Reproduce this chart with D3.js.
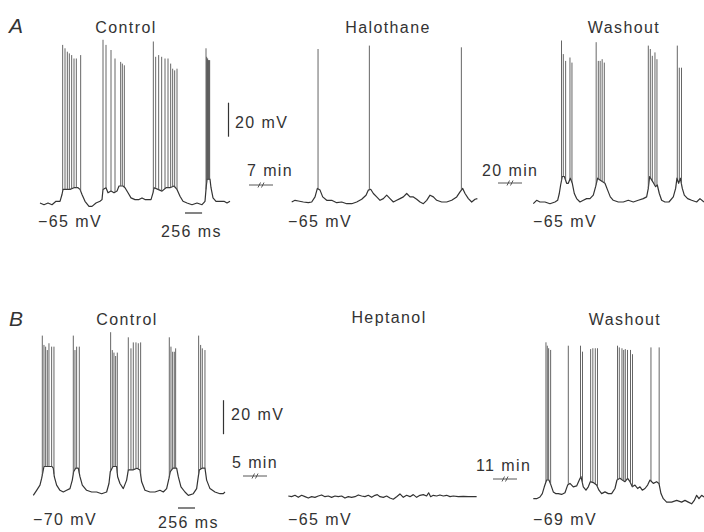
<!DOCTYPE html>
<html><head><meta charset="utf-8">
<script src="https://cdn.jsdelivr.net/npm/d3@7"></script>
<style>
html,body{margin:0;padding:0;background:#fff;}
svg text{font-family:"Liberation Sans",Arial,Helvetica,sans-serif;fill:#333;}
</style></head><body>
<svg id="c" width="704" height="532"></svg>
<script>
// ---------- DATA (time in ms, membrane potential in mV) ----------
const panelLetters = ["A", "B"];
const conditionsA = ["Control", "Halothane", "Washout"];
const conditionsB = ["Control", "Heptanol", "Washout"];
const restLabelsA = ["−65 mV", "−65 mV", "−65 mV"];
const restLabelsB = ["−70 mV", "−65 mV", "−69 mV"];
const restA = [-65, -65, -65];
const restB = [-70, -65, -69];
const gapLabelsA = ["7 min", "20 min"];
const gapLabelsB = ["5 min", "11 min"];
const voltBarLabel = "20 mV";
const voltBarMV = 20;
const timeBarLabel = "256 ms";
const timeBarMS = 256;

// A – Control
const aCtrlBase = [[0,-65],[60,-66],[120,-65],[180,-66],[240,-64],[300,-64],[330,-60],[345,-57],[390,-57],[450,-57],[510,-56],[570,-56],[600,-57],[630,-60],[675,-64],[735,-67],[780,-67],[840,-65],[900,-64],[930,-63],[945,-57],[990,-56],[1020,-59],[1065,-58],[1110,-59],[1155,-58],[1185,-55],[1245,-55],[1275,-56],[1320,-59],[1365,-62],[1425,-63],[1485,-63],[1530,-62],[1575,-63],[1620,-63],[1665,-63],[1695,-59],[1710,-56],[1770,-57],[1830,-58],[1890,-56],[1950,-56],[2010,-55],[2055,-57],[2100,-61],[2145,-64],[2205,-65],[2280,-66],[2355,-65],[2430,-66],[2475,-64],[2490,-57],[2505,-51],[2550,-51],[2565,-56],[2595,-62],[2640,-64],[2700,-64],[2760,-64],[2805,-65],[2850,-64]];
const aCtrlSpikes = [[340,28],[375,26],[410,24],[440,23],[475,22],[510,20],[545,20],[610,22],
  [945,31],[990,28],[1065,25],[1125,20],[1210,18],[1235,17],[1265,16],
  [1700,30],[1735,21],[1780,22],[1825,21],[1875,20],[1920,20],[1960,17],[1990,14],[2020,13],[2055,14],
  [2490,26],[2500,21],[2508,20],[2515,20],[2522,19],[2530,19],[2538,19],[2545,19]];

// A – Halothane
const aHaloBase = [[0,-65],[50,-64],[100,-64.4],[175,-65],[250,-65.4],[300,-65],[350,-62],[385,-57],[425,-58],[465,-62],[525,-64],[600,-64],[675,-65.4],[750,-65],[825,-66],[900,-66],[975,-65],[1050,-63.4],[1115,-61],[1150,-58],[1185,-57.5],[1225,-60],[1275,-62],[1325,-64],[1375,-63],[1425,-61],[1475,-63],[1525,-65],[1575,-64],[1625,-63],[1675,-62],[1725,-60],[1775,-62],[1825,-62],[1875,-63.4],[1925,-65],[1975,-66],[2025,-64],[2075,-61],[2125,-62],[2175,-64],[2250,-65],[2325,-65],[2400,-64],[2475,-62],[2525,-59],[2565,-57],[2600,-60],[2650,-63],[2700,-65],[2750,-63.4],[2785,-63]];
const aHaloSpikes = [[395,25],[1165,27],[2545,26]];

// A – Washout
const aWashBase = [[0,-66],[50,-64],[100,-65],[175,-65],[250,-66],[325,-65],[365,-64],[390,-60],[410,-55],[435,-50],[465,-50],[500,-54],[525,-54],[555,-51],[585,-54],[615,-60],[650,-63],[700,-65],[750,-64],[800,-63],[850,-63],[900,-61],[935,-56],[965,-51],[1000,-52],[1035,-53],[1075,-54],[1115,-58],[1155,-62],[1200,-64],[1275,-65],[1350,-65],[1425,-64],[1500,-65],[1575,-64],[1650,-63],[1700,-62],[1725,-57],[1745,-50],[1775,-52],[1805,-54],[1835,-56],[1860,-55],[1890,-60],[1925,-64],[1975,-65],[2035,-65],[2100,-62],[2135,-57],[2155,-51],[2180,-54],[2205,-51],[2235,-57],[2265,-61],[2315,-63],[2375,-64],[2450,-65],[2500,-63],[2560,-65]];
const aWashSpikes = [[423,30],[450,22],[485,18],[550,20],[580,17],
  [943,29],[975,18],[1003,18],[1033,19],[1065,17],
  [1725,27],[1755,25],[1785,21],[1825,23],[1855,19],
  [2160,27],[2190,14],[2223,14]];

// B – Control
const bCtrlBase = [[0,-72],[50,-69],[100,-66],[125,-62],[140,-59],[160,-55],[220,-55],[280,-55],[300,-56],[315,-61],[350,-66],[400,-69],[450,-70],[500,-69],[550,-68],[585,-63],[605,-58],[635,-56],[675,-56],[700,-61],[735,-66],[800,-69],[875,-70],[950,-70],[1025,-71],[1100,-70],[1135,-65],[1155,-58],[1195,-55],[1250,-55],[1265,-61],[1300,-65],[1350,-68],[1400,-63],[1425,-57],[1495,-57],[1555,-56],[1600,-57],[1625,-64],[1675,-69],[1750,-70],[1825,-70],[1900,-69],[1950,-70],[2000,-68],[2035,-62],[2055,-58],[2095,-56],[2150,-56],[2175,-61],[2215,-67],[2275,-70],[2325,-72],[2400,-71],[2450,-68],[2475,-61],[2490,-57],[2530,-56],[2575,-56],[2600,-63],[2650,-68],[2725,-70],[2800,-71],[2850,-71],[2875,-70]];
const bCtrlSpikes = [[135,22],[160,16.5],[185,15.5],[210,13.5],[235,17.5],[275,15.5],[310,15.5],
  [600,22],[625,13.5],[650,15.5],[690,15.5],
  [1160,24],[1185,13.5],[1210,12],[1235,10],[1260,12],
  [1425,21],[1465,14.5],[1500,18],[1540,18],[1575,17.5],[1610,18],
  [2040,21],[2065,15.5],[2090,12.5],[2115,12.5],[2135,14.5],
  [2480,22],[2510,16.5],[2535,14.5],[2575,13.5]];

// B – Heptanol
const bHeptBase = [[0,-64.7],[50,-65.1],[100,-64.3],[150,-65.5],[200,-64.3],[250,-65.1],[300,-65.9],[350,-65.1],[400,-65.5],[450,-64.7],[500,-64.1],[550,-65.1],[600,-64.7],[650,-65.5],[700,-64.7],[750,-65.1],[800,-64.7],[850,-65.9],[900,-65.1],[950,-65.5],[1000,-65.1],[1050,-64.1],[1100,-64.7],[1150,-65.1],[1200,-64.3],[1250,-65.5],[1300,-64.3],[1335,-63.9],[1375,-65.1],[1425,-65.5],[1475,-64.7],[1525,-65.9],[1575,-66.6],[1625,-65.1],[1675,-63.5],[1725,-65.5],[1775,-64.3],[1825,-65.1],[1875,-63.9],[1925,-65.5],[1975,-64.3],[2025,-63.9],[2075,-64.7],[2105,-62.8],[2135,-65.1],[2175,-64.3],[2225,-64.7],[2275,-64.1],[2325,-64.7],[2375,-64.3],[2425,-65.1],[2475,-64.7],[2550,-65.1],[2625,-64.9],[2700,-65.1],[2775,-65.1],[2825,-65.1]];
const bHeptSpikes = [];

// B – Washout
const bWashBase = [[0,-70],[50,-70],[100,-69],[135,-67],[165,-63],[200,-59],[235,-59],[265,-62],[300,-66],[335,-67],[375,-67],[425,-67.5],[475,-66.5],[515,-62],[550,-61],[600,-63],[650,-62.5],[690,-59],[715,-57],[750,-63],[790,-65],[825,-63],[855,-60],[900,-60.5],[950,-62],[985,-65],[1025,-67],[1075,-66],[1125,-67],[1175,-67],[1225,-64],[1255,-59],[1300,-58],[1335,-59],[1375,-60],[1415,-58],[1450,-60],[1485,-63],[1525,-62],[1565,-64],[1600,-63],[1635,-65],[1675,-64],[1715,-62],[1750,-59],[1800,-61],[1850,-60],[1885,-61],[1915,-67],[1950,-70],[2000,-72],[2075,-72],[2150,-71],[2225,-72],[2275,-71],[2325,-72],[2375,-73],[2415,-71],[2450,-68],[2485,-70],[2525,-68],[2560,-69]];
const bWashSpikes = [[190,22],[210,20],[230,18.5],[260,17.5],
  [525,20],
  [708,20],[738,16.5],
  [860,18],[893,18.5],[930,18.5],[963,18.5],
  [1263,20],[1290,19],[1330,18.5],[1356,17.5],[1380,18],[1413,17.5],[1458,17.5],[1488,15],
  [1765,19],[1888,19]];

// ---------- LAYOUT ----------
const msPerPx = 15;
const mvPerPx = 1 / 1.7;
const traces = [
  {base: aCtrlBase, spikes: aCtrlSpikes, rest: restA[0], x0: 40,    y0: 203,   title: conditionsA[0], label: restLabelsA[0], tx: 126, ty: 33, lx: 38,  ly: 227},
  {base: aHaloBase, spikes: aHaloSpikes, rest: restA[1], x0: 291.7, y0: 202,   title: conditionsA[1], label: restLabelsA[1], tx: 388, ty: 33, lx: 288, ly: 227},
  {base: aWashBase, spikes: aWashSpikes, rest: restA[2], x0: 533.3, y0: 202,   title: conditionsA[2], label: restLabelsA[2], tx: 624, ty: 33, lx: 533, ly: 227},
  {base: bCtrlBase, spikes: bCtrlSpikes, rest: restB[0], x0: 33.3,  y0: 492,   title: conditionsB[0], label: restLabelsB[0], tx: 127, ty: 325, lx: 33, ly: 525},
  {base: bHeptBase, spikes: bHeptSpikes, rest: restB[1], x0: 288.3, y0: 496.5, title: conditionsB[1], label: restLabelsB[1], tx: 389, ty: 323, lx: 288, ly: 525},
  {base: bWashBase, spikes: bWashSpikes, rest: restB[2], x0: 533.3, y0: 497,   title: conditionsB[2], label: restLabelsB[2], tx: 625, ty: 325, lx: 533, ly: 525}
];

const svg = d3.select("#c");
const FS = 16, LS = "1.4px";

traces.forEach(tr => {
  tr.x = d3.scaleLinear().domain([0, 3000]).range([tr.x0, tr.x0 + 3000 / msPerPx]);
  tr.y = d3.scaleLinear().domain([tr.rest, tr.rest + 20]).range([tr.y0, tr.y0 - 20 / mvPerPx]);
  const bis = d3.bisector(d => d[0]).left;
  const baseAt = t => {
    const b = tr.base; let i = bis(b, t);
    if (i <= 0) return b[0][1];
    if (i >= b.length) return b[b.length - 1][1];
    const p = b[i - 1], q = b[i], f = (t - p[0]) / (q[0] - p[0]);
    return p[1] + f * (q[1] - p[1]);
  };
  const g = svg.append("g");
  g.append("path")
    .attr("d", d3.line().x(d => tr.x(d[0])).y(d => tr.y(d[1]))(tr.base))
    .attr("fill", "none").attr("stroke", "#333").attr("stroke-width", 1.2)
    .attr("stroke-linejoin", "round");
  g.selectAll("line.sp").data(tr.spikes).join("line").attr("class", "sp")
    .attr("x1", d => tr.x(d[0])).attr("x2", d => tr.x(d[0]))
    .attr("y1", d => tr.y(baseAt(d[0]))).attr("y2", d => tr.y(d[1]))
    .attr("stroke", "#555").attr("stroke-width", 0.9);
  svg.append("text").attr("x", tr.tx).attr("y", tr.ty).attr("text-anchor", "middle")
    .attr("font-size", FS).attr("letter-spacing", LS).text(tr.title);
  svg.append("text").attr("x", tr.lx).attr("y", tr.ly)
    .attr("font-size", FS).attr("letter-spacing", LS).text(tr.label);
});

// panel letters
svg.append("text").attr("x", 9).attr("y", 33).attr("font-size", 21).attr("font-style", "italic").text(panelLetters[0]);
svg.append("text").attr("x", 9).attr("y", 326).attr("font-size", 21).attr("font-style", "italic").text(panelLetters[1]);

// scale bars (volts drawn with control-trace scales)
function voltBar(tr, from, xPos, textX, textY) {
  svg.append("line").attr("x1", xPos).attr("x2", xPos)
    .attr("y1", tr.y(from)).attr("y2", tr.y(from + voltBarMV))
    .attr("stroke", "#333").attr("stroke-width", 1.2);
  svg.append("text").attr("x", textX).attr("y", textY).attr("font-size", FS).attr("letter-spacing", LS).text(voltBarLabel);
}
voltBar(traces[0], -26, 228.5, 235, 128);
voltBar(traces[3], -36, 223.5, 231, 420);

function timeBar(tr, t0, yPos, textX, textY) {
  svg.append("line").attr("x1", tr.x(t0)).attr("x2", tr.x(t0 + timeBarMS))
    .attr("y1", yPos).attr("y2", yPos).attr("stroke", "#333").attr("stroke-width", 1.2);
  svg.append("text").attr("x", textX).attr("y", textY).attr("font-size", FS).attr("letter-spacing", LS).text(timeBarLabel);
}
timeBar(traces[0], 2175, 213, 161, 237);
timeBar(traces[3], 2170, 508, 158, 528);

// time-gap markers
function gapMark(label, tx, ty, cx, cy) {
  svg.append("text").attr("x", tx).attr("y", ty).attr("font-size", FS).attr("letter-spacing", LS).text(label);
  const g = svg.append("g").attr("stroke", "#444").attr("stroke-width", 0.9);
  g.append("line").attr("x1", cx - 12).attr("x2", cx + 12).attr("y1", cy).attr("y2", cy);
  g.append("line").attr("x1", cx - 3).attr("x2", cx - 0.5).attr("y1", cy + 2.5).attr("y2", cy - 2.5);
  g.append("line").attr("x1", cx + 0.5).attr("x2", cx + 3).attr("y1", cy + 2.5).attr("y2", cy - 2.5);
}
gapMark(gapLabelsA[0], 247, 176, 261, 185);
gapMark(gapLabelsA[1], 482, 176, 510, 183);
gapMark(gapLabelsB[0], 232, 468, 255, 476);
gapMark(gapLabelsB[1], 476, 471, 505, 479);
</script></body></html>
